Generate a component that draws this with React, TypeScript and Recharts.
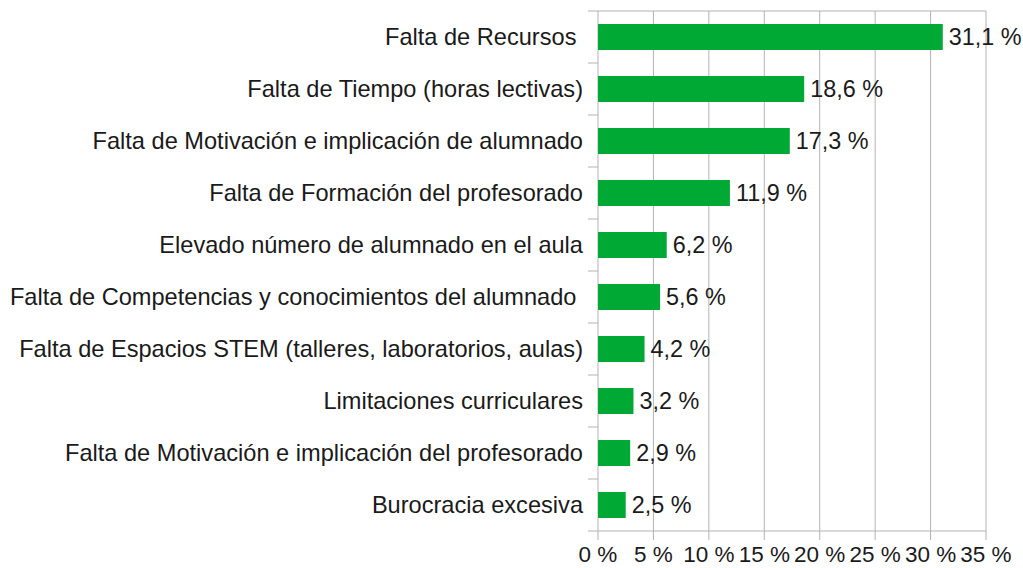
import { Bar, BarChart, CartesianGrid, LabelList, XAxis, YAxis } from "recharts"

const categories = [
  "Falta de Recursos ",
  "Falta de Tiempo (horas lectivas)",
  "Falta de Motivación e implicación de alumnado",
  "Falta de Formación del profesorado",
  "Elevado número de alumnado en el aula",
  "Falta de Competencias y conocimientos del alumnado ",
  "Falta de Espacios STEM (talleres, laboratorios, aulas)",
  "Limitaciones curriculares",
  "Falta de Motivación e implicación del profesorado",
  "Burocracia excesiva",
]

const percentages = [31.1, 18.6, 17.3, 11.9, 6.2, 5.6, 4.2, 3.2, 2.9, 2.5]

const xTicks = [0, 5, 10, 15, 20, 25, 30, 35]

const data = categories.map((name, i) => ({ name, value: percentages[i] }))

const WIDTH = 1023
const HEIGHT = 568
const MARGIN = { top: 11, right: 37, bottom: 0, left: 0 }
const Y_AXIS_WIDTH = 598
const X_AXIS_HEIGHT = 37
const GRID = "#b3b3b3"
const TEXT = "#1a1a1a"
const FONT = "'Liberation Sans', Arial, sans-serif"
const plotWidth = WIDTH - MARGIN.left - MARGIN.right - Y_AXIS_WIDTH
const bandHeight = (HEIGHT - MARGIN.top - MARGIN.bottom - X_AXIS_HEIGHT) / categories.length

const pct = (v: number) => `${String(v).replace(".", ",")} %`

// category ticks sit on band edges, first one doubles as the top border
const CategoryTick = (props: any) => {
  const { x, y, payload, index } = props
  const axisX = x + 15
  return (
    <g>
      <line
        x1={axisX - 10}
        x2={index === 0 ? axisX + plotWidth : axisX}
        y1={y - bandHeight / 2}
        y2={y - bandHeight / 2}
        stroke={GRID}
      />
      {index === categories.length - 1 && (
        <line x1={axisX - 10} x2={axisX} y1={y + bandHeight / 2} y2={y + bandHeight / 2} stroke={GRID} />
      )}
      <text
        x={x}
        y={y}
        dy="0.36em"
        textAnchor="end"
        fill={TEXT}
        fontSize={23.6}
        fontFamily={FONT}
        style={{ whiteSpace: "pre" }}
      >
        {payload.value}
      </text>
    </g>
  )
}

export default function App() {
  return (
    <div style={{ width: WIDTH, height: HEIGHT, background: "#fff" }}>
      <style>{"body{margin:0}"}</style>
      <BarChart width={WIDTH} height={HEIGHT} data={data} layout="vertical" margin={MARGIN} barCategoryGap="25%">
        <CartesianGrid horizontal={false} stroke={GRID} />
        <XAxis
          type="number"
          domain={[0, 35]}
          ticks={xTicks}
          height={X_AXIS_HEIGHT}
          tickFormatter={(v: number) => `${v} %`}
          tickSize={9}
          tickMargin={6}
          stroke={GRID}
          tick={{ fill: TEXT, fontSize: 22.5, fontFamily: FONT }}
          interval={0}
        />
        <YAxis
          dataKey="name"
          type="category"
          width={Y_AXIS_WIDTH}
          axisLine={false}
          tickLine={false}
          tickSize={10}
          tickMargin={5}
          interval={0}
          tick={<CategoryTick />}
        />
        <Bar dataKey="value" fill="#00a933" isAnimationActive={false}>
          <LabelList
            dataKey="value"
            position="right"
            offset={6}
            formatter={(v: any) => pct(Number(v))}
            fill={TEXT}
            fontSize={23.4}
            fontFamily={FONT}
          />
        </Bar>
      </BarChart>
    </div>
  )
}
